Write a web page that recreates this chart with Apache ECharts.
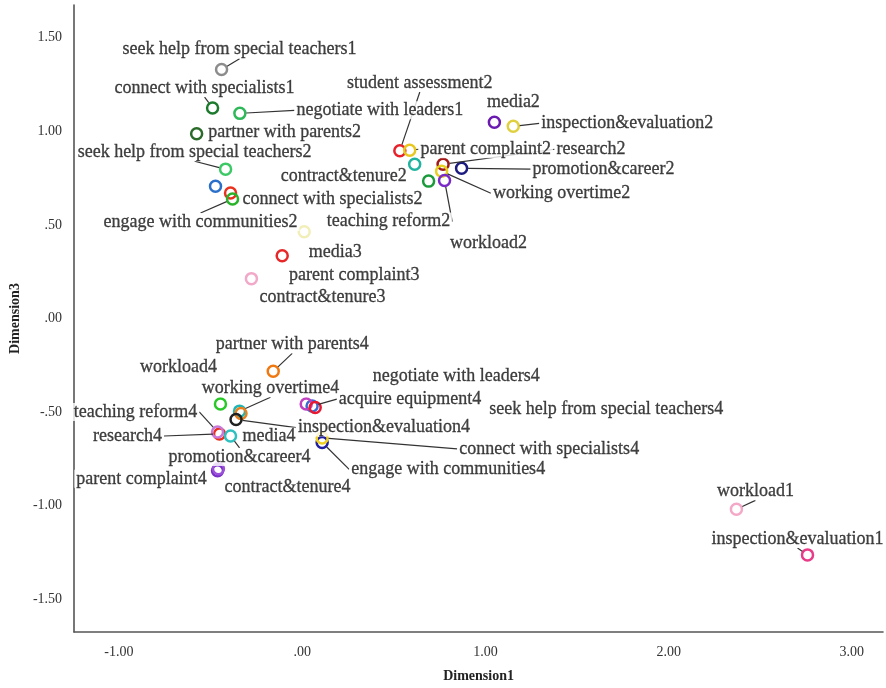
<!DOCTYPE html>
<html><head><meta charset="utf-8">
<script src="https://cdn.jsdelivr.net/npm/echarts@6/dist/echarts.min.js"></script>
<style>html,body{margin:0;padding:0;background:#fff}#c{width:886px;height:688px}</style>
</head><body><div id="c"></div>
<script>
// ---- data ----
const pointLabels = [
  'seek help from special teachers1','connect with specialists1','negotiate with leaders1','partner with parents2',
  'seek help from special teachers2','','connect with specialists2','engage with communities2',
  'student assessment2','parent complaint2','contract&tenure2','research2','promotion&career2','working overtime2',
  'workload2','teaching reform2','media2','inspection&evaluation2','media3','parent complaint3','contract&tenure3',
  'partner with parents4','workload4','working overtime4','media4','inspection&evaluation4','research4',
  'teaching reform4','promotion&career4','parent complaint4','contract&tenure4','acquire equipment4',
  'negotiate with leaders4','seek help from special teachers4','engage with communities4','connect with specialists4',
  'workload1','inspection&evaluation1'
];
const dim1 = [
  -0.440,-0.489,-0.340,-0.576,
  -0.418,-0.473,-0.391,-0.380,
  0.533,0.587,0.614,0.769,0.870,0.761,
  0.690,0.777,1.049,1.152,0.011,-0.109,-0.277,
  -0.158,-0.446,-0.342,-0.334,-0.361,-0.451,
  -0.462,-0.391,-0.462,-0.457,0.054,
  0.022,0.071,0.109,0.109,
  2.370,2.758
];
const dim3 = [
  1.330,1.125,1.096,0.987,
  0.798,0.707,0.670,0.638,
  0.896,0.899,0.824,0.824,0.803,0.787,
  0.734,0.737,1.048,1.027,0.463,0.335,0.213,
  -0.282,-0.457,-0.495,-0.508,-0.540,-0.617,
  -0.606,-0.628,-0.814,-0.803,-0.468,
  -0.457,-0.476,-0.662,-0.638,
  -1.019,-1.263
];
const xTickValues = [-1, 0, 1, 2, 3];
const xTickLabels = ['-1.00', '.00', '1.00', '2.00', '3.00'];
const yTickValues = [-1.5, -1, -0.5, 0, 0.5, 1, 1.5];
const yTickLabels = ['-1.50', '-1.00', '-.50', '.00', '.50', '1.00', '1.50'];

// ---- styles / layout ----
const markColors = [
  '#8c8c8c','#1b7a2c','#2fb85a','#2a6a2a',
  '#3cc864','#2a6fc9','#e8321e','#28b428',
  '#e8202a','#e8c820','#20b4a0','#a01818','#1a1a80','#e8d020',
  '#1a9a3a','#7a28c8','#6a1ab0','#e0d040','#f2eeb8','#e82828','#f2a8c8',
  '#f07810','#28c828','#20b4b4','#e88020','#202020','#e83020',
  '#c878d8','#30c0c0','#7830c8','#9a50d8','#3a6ad0',
  '#c040c0','#e81830','#2020a0','#f0d020',
  '#f4a8c8','#e83c88'
];
const labelOffsets = [
  [18,-20],[-8,-20],[140,-3],[88,-2],
  [-31,-17],[0,0],[102,6],[-32,23],
  [20,-68],[76,-1],[-71,12],[148,-15],[142,1],[120,22],
  [60,62],[-56,41],[19,-20],[114,-3],[31,20],[72,19],[71,19],
  [19,-27],[-42,-37],[31,-23],[28,23],[148,8],[-92,2],
  [-82,-20],[9,21],[-76,8],[69,18],[98,-7],
  [150,-28],[291,2],[126,27],[227,11],
  [19,-18],[-10,-16]
];
const showLeader = [
  1,1,1,0,
  1,0,0,1,
  1,1,0,1,1,1,
  0,1,0,1,0,0,0,
  1,0,1,0,1,1,
  1,1,0,0,1,
  0,0,1,1,
  1,1
];
const serif = "'Liberation Serif','Times New Roman',serif";

const circleData = dim1.map((x, i) => ({
  value: [x, dim3[i]],
  itemStyle: { borderColor: markColors[i] }
}));
const labelData = dim1.map((x, i) => ({
  name: pointLabels[i],
  value: [x, dim3[i]],
  label: { show: pointLabels[i] !== '' },
  labelLine: { show: !!showLeader[i] }
}));

const chart = echarts.init(document.getElementById('c'));
chart.setOption({
  animation: false,
  backgroundColor: '#fff',
  grid: { left: 73, right: 3, top: 5, bottom: 53 },
  xAxis: {
    type: 'value', min: -1.245, max: 3.17,
    name: 'Dimension1', nameLocation: 'middle', nameGap: 37,
    nameTextStyle: { fontFamily: serif, fontWeight: 'bold', fontSize: 14, color: '#222' },
    axisLine: { show: true, onZero: false, lineStyle: { color: '#555', width: 1.6 } },
    axisTick: { show: false },
    splitLine: { show: false },
    axisLabel: {
      customValues: xTickValues, margin: 13,
      fontFamily: serif, fontSize: 14, color: '#333',
      formatter: v => xTickLabels[xTickValues.findIndex(t => Math.abs(t - v) < 1e-9)] || ''
    }
  },
  yAxis: {
    type: 'value', min: -1.675, max: 1.675,
    name: 'Dimension3', nameLocation: 'middle', nameGap: 45, nameRotate: 90,
    nameTextStyle: { fontFamily: serif, fontWeight: 'bold', fontSize: 14, color: '#222' },
    axisLine: { show: true, onZero: false, lineStyle: { color: '#555', width: 1.6 } },
    axisTick: { show: false },
    splitLine: { show: false },
    axisLabel: {
      customValues: yTickValues, margin: 12,
      fontFamily: serif, fontSize: 14, color: '#333',
      formatter: v => yTickLabels[yTickValues.findIndex(t => Math.abs(t - v) < 1e-9)] || ''
    }
  },
  series: [
    {
      type: 'scatter', z: 2, silent: true,
      symbol: 'circle', symbolSize: 11,
      itemStyle: { color: 'rgba(0,0,0,0)', borderWidth: 2.5, opacity: 1 },
      data: circleData
    },
    {
      type: 'scatter', z: 3, silent: true,
      symbol: 'circle', symbolSize: 13,
      itemStyle: { color: 'rgba(0,0,0,0)', borderWidth: 0 },
      label: {
        show: true, position: 'inside', formatter: '{b}',
        fontFamily: serif, fontSize: 18, color: '#111',
        textBorderColor: '#111', textBorderWidth: 0.3,
        backgroundColor: '#fff', padding: [0, 2], lineHeight: 18
      },
      labelLine: { show: false, lineStyle: { color: '#333', width: 1.2 } },
      labelLayout: p => ({ dx: labelOffsets[p.dataIndex][0], dy: labelOffsets[p.dataIndex][1] }),
      data: labelData
    }
  ]
});
</script>
</body></html>
